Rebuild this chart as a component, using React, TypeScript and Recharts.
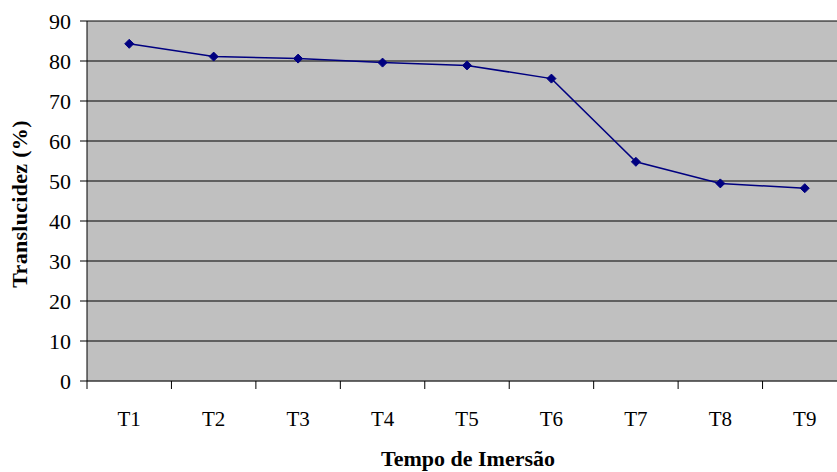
import React from "react";
import {
  LineChart, Line, XAxis, YAxis, CartesianGrid, Label,
} from "recharts";

const categories = ["T1", "T2", "T3", "T4", "T5", "T6", "T7", "T8", "T9"];
const translucidez = [84.3, 81.1, 80.6, 79.6, 78.9, 75.6, 54.8, 49.4, 48.2];
const yTicks = [0, 10, 20, 30, 40, 50, 60, 70, 80, 90];

const data = categories.map((c, i) => ({ name: c, value: translucidez[i] }));

const CHART_W = 847;
const Y_AXIS_W = 87;
const BAND = (CHART_W - Y_AXIS_W) / categories.length;
const FONT = "Liberation Serif, Times New Roman, serif";

// diamond marker like the old spreadsheet charts
const Diamond = (props: any) => {
  const { cx, cy } = props;
  if (cx == null || cy == null) return null;
  const r = 4.5;
  return (
    <polygon
      points={`${cx},${cy - r} ${cx + r},${cy} ${cx},${cy + r} ${cx - r},${cy}`}
      fill="#000080"
      stroke="#000080"
    />
  );
};

// tick marks sit on category boundaries, label in the middle
const CategoryTick = (props: any) => {
  const { x, y, payload, index } = props;
  const axisY = y - 10;
  return (
    <g>
      <line x1={x - BAND / 2} y1={axisY} x2={x - BAND / 2} y2={axisY + 8} stroke="#000" />
      {index === categories.length - 1 && (
        <line x1={x + BAND / 2} y1={axisY} x2={x + BAND / 2} y2={axisY + 8} stroke="#000" />
      )}
      <text x={x} y={y + 35} textAnchor="middle" fontSize={21} fontFamily={FONT} fill="#000">
        {payload.value}
      </text>
    </g>
  );
};

const XTitle = ({ viewBox }: any) => (
  <text
    x={viewBox.x + viewBox.width / 2 + 1}
    y={viewBox.y + viewBox.height - 6}
    textAnchor="middle"
    fontFamily={FONT}
    fontWeight={700}
    fontSize={22}
    fill="#000"
  >
    Tempo de Imersão
  </text>
);

const YTitle = ({ viewBox }: any) => {
  const cx = viewBox.x + 27;
  const cy = viewBox.y + viewBox.height / 2 + 3;
  return (
    <text
      x={cx}
      y={cy}
      transform={`rotate(-90 ${cx} ${cy})`}
      textAnchor="middle"
      fontFamily={FONT}
      fontWeight={700}
      fontSize={22}
      letterSpacing={0.3}
      fill="#000"
    >
      Translucidez (%)
    </text>
  );
};

export default function App() {
  return (
    <div style={{ position: "absolute", left: 0, top: 0, width: 837, height: 472, overflow: "hidden", background: "#fff" }}>
      <LineChart
        width={CHART_W}
        height={472}
        data={data}
        margin={{ top: 21, right: 0, bottom: 0, left: 0 }}
      >
        <CartesianGrid vertical={false} stroke="#000" fill="#c0c0c0" fillOpacity={1} />
        <XAxis
          dataKey="name"
          height={91}
          padding={{ left: BAND / 2, right: BAND / 2 }}
          tickLine={false}
          axisLine={{ stroke: "#555" }}
          tickSize={0}
          tickMargin={10}
          interval={0}
          tick={<CategoryTick />}
        >
          <Label content={<XTitle />} />
        </XAxis>
        <YAxis
          width={Y_AXIS_W}
          domain={[0, 90]}
          ticks={yTicks}
          interval={0}
          tickSize={7}
          tickMargin={9}
          tickLine={{ stroke: "#000" }}
          axisLine={{ stroke: "#000" }}
          tick={{ fontFamily: FONT, fontSize: 22, fill: "#000" }}
        >
          <Label content={<YTitle />} />
        </YAxis>
        <Line
          type="linear"
          dataKey="value"
          stroke="#000080"
          strokeWidth={1.5}
          dot={<Diamond />}
          activeDot={false}
          isAnimationActive={false}
        />
      </LineChart>
    </div>
  );
}
